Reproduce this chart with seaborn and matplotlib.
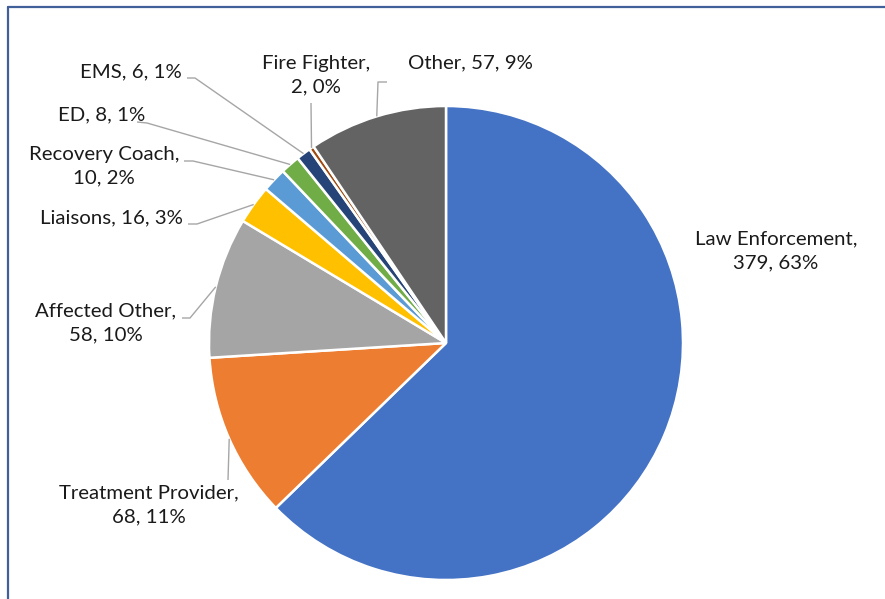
import numpy as np
import matplotlib
matplotlib.use("Agg")
import matplotlib.pyplot as plt
import seaborn as sns
from matplotlib.lines import Line2D

# data
categories = ["Law Enforcement", "Treatment Provider", "Affected Other", "Liaisons",
              "Recovery Coach", "ED", "EMS", "Fire Fighter", "Other"]
counts = [379, 68, 58, 16, 10, 8, 6, 2, 57]
percents = ["63%", "11%", "10%", "3%", "2%", "1%", "1%", "0%", "9%"]
colors = ["#4472C4", "#ED7D31", "#A5A5A5", "#FFC000", "#5B9BD5",
          "#70AD47", "#264478", "#9E480E", "#636363"]

# label text: name wrapped like the excel callouts
label_text = [
    "Law Enforcement,\n379, 63%",
    "Treatment Provider,\n68, 11%",
    "Affected Other,\n58, 10%",
    "Liaisons, 16, 3%",
    "Recovery Coach,\n10, 2%",
    "ED, 8, 1%",
    "EMS, 6, 1%",
    "Fire Fighter,\n2, 0%",
    "Other, 57, 9%",
]

W, H = 885, 599
cx, cy, R = 446, 343, 237

# label centres and leader line bends (pixel coords, y from top)
label_pos = [(776, 251), (149, 505), (106, 323), (111, 218), (104, 166),
             (102, 115), (131, 72), (316, 75), (470, 63)]
leader_pts = [
    [],
    [(228, 480)],
    [(190, 318), (182, 318)],
    [(197, 224), (188, 224)],
    [(193, 161), (184, 161)],
    [(147, 123), (137, 122)],
    [(195, 78), (187, 78)],
    [(311, 103)],
    [(378, 82), (387, 82)],
]

sns.set_theme(style="white")
plt.rcParams["font.family"] = ["Lato", "DejaVu Sans"]

fig = plt.figure(figsize=(W / 100, H / 100), dpi=100)
ax = fig.add_axes([0, 0, 1, 1])

ax.pie(counts, colors=colors, startangle=90, counterclock=False,
       radius=R, center=(cx, H - cy),
       wedgeprops=dict(edgecolor="white", linewidth=1.8))

ax.set_xlim(0, W)
ax.set_ylim(0, H)
ax.set_aspect("equal")
ax.axis("off")

total = sum(counts)
cum = np.cumsum([0] + counts[:-1])
for i, name in enumerate(categories):
    mid = (cum[i] + counts[i] / 2) / total * 360
    a = np.deg2rad(mid)
    sx, sy = cx + R * np.sin(a), cy - R * np.cos(a)
    if leader_pts[i]:
        xs = [sx] + [p[0] for p in leader_pts[i]]
        ys = [sy] + [p[1] for p in leader_pts[i]]
        ax.plot(xs, [H - y for y in ys], color="#A6A6A6", lw=1.0,
                solid_capstyle="butt", zorder=1)
    lx, ly = label_pos[i]
    ax.text(lx, H - ly, label_text[i], ha="center", va="center",
            fontsize=14.7, color="#1a1a1a", linespacing=1.45)

# chart border (top and left edges visible)
fig.add_artist(Line2D([8 / W, 1.0], [1 - 7 / H, 1 - 7 / H], color="#41609A",
                      lw=1.6, transform=fig.transFigure))
fig.add_artist(Line2D([8 / W, 8 / W], [1 - 7 / H, 0.0], color="#41609A",
                      lw=1.6, transform=fig.transFigure))

fig.savefig("out.png", dpi=100, facecolor="white")
